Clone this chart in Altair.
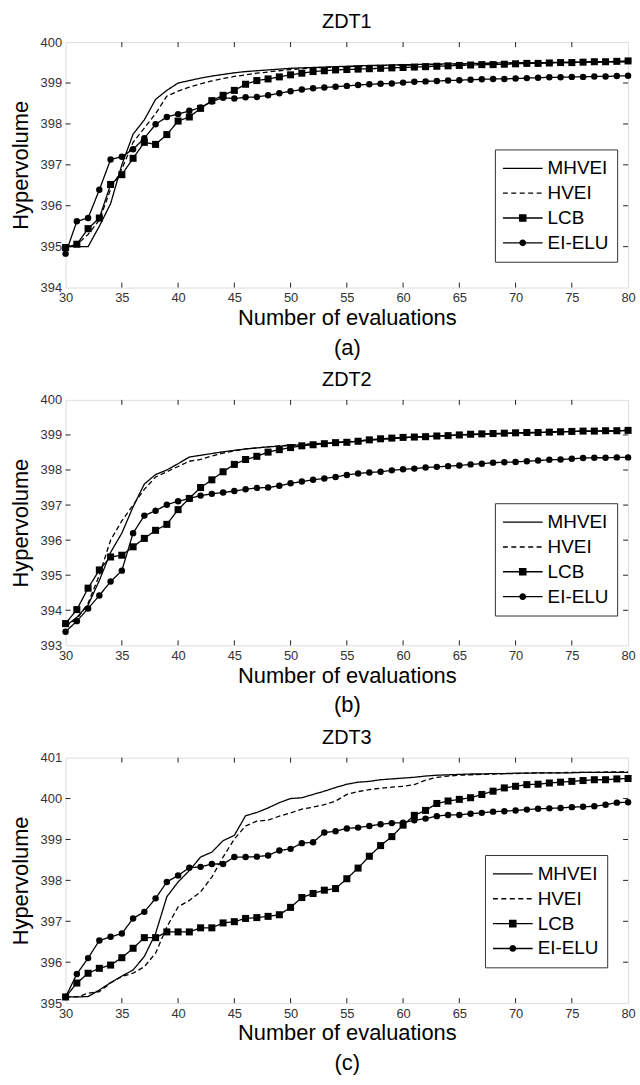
import altair as alt
import pandas as pd

evals = list(range(30, 81))
methods = ["MHVEI", "HVEI", "LCB", "EI-ELU"]
x_ticks = [30, 35, 40, 45, 50, 55, 60, 65, 70, 75, 80]

# ---------------- ZDT1 ----------------
zdt1_mhvei = [395.0, 395.0, 395.0, 395.5, 396.05, 397.0, 397.75, 398.1, 398.6, 398.82, 399.0,
              399.06, 399.12, 399.17, 399.21, 399.25, 399.28, 399.30, 399.32, 399.34, 399.36,
              399.37, 399.38, 399.39, 399.40, 399.41, 399.42, 399.43, 399.43, 399.44, 399.45,
              399.45, 399.46, 399.46, 399.47, 399.47, 399.48, 399.48, 399.49, 399.49, 399.49,
              399.50, 399.50, 399.50, 399.51, 399.51, 399.51, 399.52, 399.52, 399.52, 399.53]
zdt1_hvei = [395.0, 395.05, 395.3, 395.65, 396.4, 396.9, 397.55, 397.9, 398.25, 398.68, 398.8,
             398.9, 398.98, 399.05, 399.11, 399.16, 399.2, 399.24, 399.27, 399.3, 399.33,
             399.35, 399.37, 399.38, 399.39, 399.40, 399.41, 399.42, 399.43, 399.43, 399.44,
             399.44, 399.45, 399.45, 399.46, 399.46, 399.47, 399.47, 399.48, 399.48, 399.49,
             399.49, 399.49, 399.50, 399.50, 399.50, 399.51, 399.51, 399.51, 399.52, 399.52]
zdt1_lcb = [394.98, 395.06, 395.44, 395.7, 396.52, 396.76, 397.16, 397.55, 397.5, 397.74, 398.07,
            398.17, 398.38, 398.57, 398.7, 398.82, 398.97, 399.06, 399.1, 399.15, 399.2,
            399.24, 399.28, 399.3, 399.32, 399.33, 399.34, 399.35, 399.36, 399.37, 399.38,
            399.39, 399.40, 399.41, 399.42, 399.43, 399.44, 399.45, 399.45, 399.46, 399.47,
            399.48, 399.48, 399.49, 399.50, 399.50, 399.51, 399.52, 399.52, 399.53, 399.54]
zdt1_eielu = [394.83, 395.62, 395.70, 396.39, 397.13, 397.20, 397.38, 397.65, 397.99, 398.17, 398.24,
              398.32, 398.40, 398.55, 398.64, 398.62, 398.65, 398.66, 398.70, 398.75, 398.80,
              398.84, 398.87, 398.89, 398.91, 398.93, 398.95, 398.97, 398.98, 398.99, 399.01,
              399.03, 399.04, 399.05, 399.06, 399.07, 399.08, 399.09, 399.10, 399.10, 399.11,
              399.12, 399.13, 399.14, 399.14, 399.15, 399.15, 399.16, 399.16, 399.17, 399.18]

# ---------------- ZDT2 ----------------
zdt2_mhvei = [393.55, 393.8, 394.15, 394.85, 395.65, 396.2, 396.95, 397.6, 397.87, 398.0, 398.18,
              398.37, 398.42, 398.47, 398.52, 398.56, 398.6, 398.63, 398.66, 398.68, 398.7,
              398.72, 398.74, 398.76, 398.78, 398.8, 398.82, 398.85, 398.87, 398.9, 398.92,
              398.94, 398.95, 398.97, 398.98, 399.0, 399.01, 399.02, 399.03, 399.04, 399.05,
              399.06, 399.07, 399.08, 399.09, 399.1, 399.1, 399.11, 399.11, 399.12, 399.13]
zdt2_hvei = [393.55, 393.75, 394.2, 395.0, 396.0, 396.55, 397.0, 397.45, 397.8, 397.95, 398.1,
             398.25, 398.3, 398.4, 398.48, 398.55, 398.6, 398.63, 398.66, 398.69, 398.71,
             398.73, 398.75, 398.77, 398.79, 398.81, 398.83, 398.86, 398.88, 398.9, 398.92,
             398.94, 398.95, 398.97, 398.98, 399.0, 399.01, 399.02, 399.03, 399.04, 399.05,
             399.06, 399.07, 399.08, 399.09, 399.1, 399.1, 399.11, 399.11, 399.12, 399.13]
zdt2_lcb = [393.62, 394.02, 394.63, 395.15, 395.52, 395.57, 395.81, 396.05, 396.28, 396.45, 396.87,
            397.19, 397.5, 397.72, 397.95, 398.16, 398.3, 398.39, 398.51, 398.58, 398.64,
            398.69, 398.72, 398.75, 398.78, 398.79, 398.82, 398.86, 398.89, 398.91, 398.93,
            398.94, 398.95, 398.97, 398.98, 399.0, 399.02, 399.03, 399.04, 399.05, 399.06,
            399.07, 399.07, 399.08, 399.09, 399.1, 399.11, 399.11, 399.12, 399.12, 399.13]
zdt2_eielu = [393.39, 393.69, 394.05, 394.42, 394.82, 395.13, 396.2, 396.7, 396.84, 397.01, 397.11,
              397.19, 397.27, 397.32, 397.36, 397.4, 397.45, 397.49, 397.5, 397.55, 397.62,
              397.67, 397.72, 397.76, 397.8, 397.86, 397.9, 397.93, 397.95, 397.99, 398.02,
              398.04, 398.07, 398.09, 398.11, 398.13, 398.16, 398.18, 398.21, 398.22, 398.23,
              398.25, 398.27, 398.29, 398.3, 398.32, 398.34, 398.35, 398.35, 398.36, 398.36]

# ---------------- ZDT3 ----------------
zdt3_mhvei = [395.15, 395.15, 395.16, 395.32, 395.5, 395.66, 395.81, 396.14, 396.7, 397.6, 397.96,
              398.24, 398.57, 398.69, 398.97, 399.1, 399.58, 399.66, 399.77, 399.9, 400.0,
              400.02, 400.1, 400.18, 400.27, 400.35, 400.4, 400.42, 400.46, 400.48, 400.5,
              400.52, 400.55, 400.57, 400.58, 400.59, 400.6, 400.6, 400.61, 400.61, 400.62,
              400.62, 400.63, 400.63, 400.63, 400.63, 400.64, 400.64, 400.64, 400.64, 400.64]
zdt3_hvei = [395.15, 395.15, 395.24, 395.28, 395.49, 395.65, 395.73, 395.89, 396.22, 396.86, 397.35,
             397.51, 397.72, 398.08, 398.57, 399.01, 399.33, 399.45, 399.47, 399.57, 399.65,
             399.74, 399.79, 399.85, 399.94, 400.1, 400.17, 400.22, 400.25, 400.28, 400.3,
             400.34, 400.45, 400.52, 400.55, 400.57, 400.58, 400.59, 400.6, 400.61, 400.61,
             400.62, 400.62, 400.63, 400.63, 400.64, 400.64, 400.64, 400.65, 400.65, 400.65]
zdt3_lcb = [395.15, 395.49, 395.73, 395.85, 395.93, 396.11, 396.34, 396.6, 396.6, 396.74, 396.74,
            396.74, 396.84, 396.84, 396.96, 396.99, 397.07, 397.09, 397.12, 397.16, 397.34,
            397.58, 397.68, 397.76, 397.8, 398.04, 398.3, 398.59, 398.85, 399.07, 399.35,
            399.59, 399.71, 399.88, 399.94, 399.98, 400.02, 400.1, 400.18, 400.26, 400.3,
            400.34, 400.35, 400.38, 400.4, 400.42, 400.44, 400.46, 400.46, 400.48, 400.49]
zdt3_eielu = [395.15, 395.71, 396.1, 396.53, 396.62, 396.7, 397.07, 397.23, 397.56, 397.96, 398.12,
              398.31, 398.33, 398.4, 398.4, 398.57, 398.57, 398.58, 398.61, 398.73, 398.77,
              398.91, 398.93, 399.17, 399.2, 399.27, 399.29, 399.33, 399.37, 399.4, 399.41,
              399.47, 399.51, 399.57, 399.6, 399.6, 399.63, 399.65, 399.68, 399.69, 399.71,
              399.73, 399.75, 399.76, 399.77, 399.79, 399.8, 399.81, 399.85, 399.9, 399.91]

# legend glyphs (line + marker) as filled custom symbol paths
legend_paths = [
    "M-1,-0.035H1V0.035H-1Z",
    ("M-1,-0.035H-0.75V0.035H-1Z M-0.575,-0.035H-0.325V0.035H-0.575Z "
     "M-0.15,-0.035H0.1V0.035H-0.15Z M0.275,-0.035H0.525V0.035H0.275Z "
     "M0.7,-0.035H0.95V0.035H0.7Z"),
    "M-1,-0.035H1V0.035H-1Z M-0.19,-0.19H0.19V0.19H-0.19Z",
    "M-1,-0.035H1V0.035H-1Z M-0.17,0A0.17,0.17 0 1,1 0.17,0A0.17,0.17 0 1,1 -0.17,0Z",
]

W, H = 566, 247
FONT = "Liberation Sans"
INK = "#222222"


def panel(title, caption, series, ydom, lx, ly):
    rows = []
    for name, vals in zip(methods, series):
        for e, v in zip(evals, vals):
            rows.append({"x": e, "y": v, "method": name})
    df = pd.DataFrame(rows)

    y_ticks = list(range(ydom[0], ydom[1] + 1))
    xs = alt.Scale(domain=[30, 80], nice=False, zero=False)
    ys = alt.Scale(domain=ydom, nice=False, zero=False)
    xax = alt.Axis(values=x_ticks, title=["Number of evaluations", caption], grid=False,
                   ticks=False, tickSize=0, domain=False, labelFontSize=13, labelColor="#333333",
                   labelFont=FONT, labelPadding=4, titleFont=FONT, titleFontSize=22,
                   titleFontWeight="normal", titleColor="black", titlePadding=3,
                   titleLineHeight=30, labelFlush=False)
    yax = alt.Axis(values=y_ticks, title="Hypervolume", grid=False, ticks=False, tickSize=0,
                   domain=False, labelFontSize=13, labelColor="#333333", labelFont=FONT,
                   labelPadding=4, titleFont=FONT, titleFontSize=22, titleFontWeight="normal",
                   titleColor="black", titlePadding=8, labelFlush=False)
    X = alt.X("x:Q", scale=xs, axis=xax)
    Y = alt.Y("y:Q", scale=ys, axis=yax)

    base = alt.Chart(df)
    line_layers = []
    for name, dash in zip(methods, [[1, 0], [5, 3], [1, 0], [1, 0]]):
        line_layers.append(
            base.transform_filter(alt.datum.method == name).mark_line(
                color="black", strokeWidth=1.3, strokeDash=dash).encode(x=X, y=Y)
        )
    squares = base.transform_filter(alt.datum.method == "LCB").mark_square(
        color="black", size=50, opacity=1).encode(x=X, y=Y)
    circles = base.transform_filter(alt.datum.method == "EI-ELU").mark_circle(
        color="black", size=42, opacity=1).encode(x=X, y=Y)

    leg = base.transform_filter(alt.datum.x == 30).mark_point(
        filled=True, color="black", size=1, opacity=0).encode(
        x=X, y=Y,
        shape=alt.Shape("method:N", scale=alt.Scale(domain=methods, range=legend_paths),
                        legend=alt.Legend(title=None, orient="none", legendX=lx, legendY=ly,
                                          symbolSize=1600, clipHeight=22, rowPadding=3,
                                          labelOffset=5, labelFontSize=19, labelFont=FONT,
                                          labelColor="black", strokeColor="#333333",
                                          fillColor="white", padding=8, symbolStrokeWidth=0,
                                          symbolFillColor="black", symbolOpacity=1)),
    )

    xt = pd.DataFrame({"x": x_ticks[1:-1]})
    yt = pd.DataFrame({"y": y_ticks[1:-1]})
    tb = alt.Chart(xt).mark_rule(color=INK, strokeWidth=1).encode(x=X, y=alt.value(H), y2=alt.value(H - 5))
    tt = alt.Chart(xt).mark_rule(color=INK, strokeWidth=1).encode(x=X, y=alt.value(0), y2=alt.value(5))
    tl = alt.Chart(yt).mark_rule(color=INK, strokeWidth=1).encode(y=Y, x=alt.value(0), x2=alt.value(5))
    tr = alt.Chart(yt).mark_rule(color=INK, strokeWidth=1).encode(y=Y, x=alt.value(W), x2=alt.value(W - 5))

    return alt.layer(tb, tt, tl, tr, *line_layers, squares, circles, leg).properties(
        width=W, height=H,
        title=alt.TitleParams(title, fontSize=20, font=FONT, fontWeight="normal", color="black",
                              offset=4, anchor="middle"),
    )


p1 = panel("ZDT1", "(a)", [zdt1_mhvei, zdt1_hvei, zdt1_lcb, zdt1_eielu], [394, 400], 432, 108)
p2 = panel("ZDT2", "(b)", [zdt2_mhvei, zdt2_hvei, zdt2_lcb, zdt2_eielu], [393, 400], 432, 104)
p3 = panel("ZDT3", "(c)", [zdt3_mhvei, zdt3_hvei, zdt3_lcb, zdt3_eielu], [395, 401], 422, 98)

chart = alt.vconcat(p1, p2, p3, spacing=10).resolve_scale(
    shape="independent"
).resolve_legend(shape="independent").properties(
    padding={"left": 8, "top": 8, "right": 4, "bottom": 2}
).configure_view(stroke=INK, strokeWidth=1).configure(background="white")

chart.save("out.html", embed_options={"renderer": "svg", "actions": False})
